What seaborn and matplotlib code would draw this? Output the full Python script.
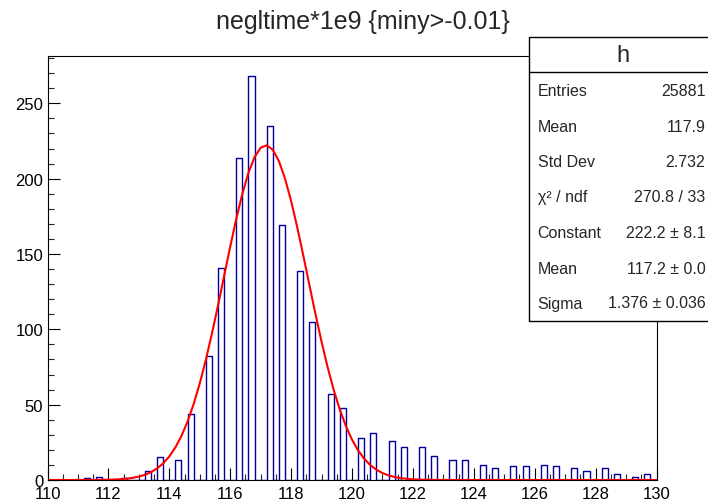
import numpy as np
import pandas as pd
import matplotlib
matplotlib.use("Agg")
import matplotlib.pyplot as plt
import seaborn as sns
from matplotlib.patches import Rectangle
from matplotlib.lines import Line2D
from matplotlib.ticker import MultipleLocator

# ---- data ----
bin_lo = [111.2, 111.6, 112.4, 113.2, 113.6, 114.2, 114.6, 115.2, 115.6, 116.2,
          116.6, 117.2, 117.6, 118.2, 118.6, 119.2, 119.6, 120.2, 120.6, 121.2,
          121.6, 122.2, 122.6, 123.2, 123.6, 124.2, 124.6, 125.2, 125.6, 126.2,
          126.6, 127.2, 127.6, 128.2, 128.6, 129.2, 129.6]
counts = [1, 2, 1, 6, 15, 13, 44, 82, 141, 214,
          268, 235, 169, 139, 105, 57, 48, 28, 31, 26,
          22, 22, 16, 13, 13, 10, 8, 9, 9, 10,
          9, 8, 6, 8, 4, 2, 4]
bin_width = 0.2
x_min, x_max = 110, 130

# Gaussian fit parameters (from the stats box)
fit_const = 222.2
fit_mean = 117.17
fit_sigma = 1.376

title = "negltime*1e9 {miny>-0.01}"
stat_labels = ["Entries", "Mean", "Std Dev", "χ² / ndf", "Constant", "Mean", "Sigma"]
stat_values = ["25881", "117.9", "2.732", "270.8 / 33", "222.2 ± 8.1", "117.2 ± 0.0", "1.376 ± 0.036"]
hist_name = "h"

# ---- figure ----
sns.set_style("ticks")
plt.rcParams["font.family"] = ["Liberation Sans", "DejaVu Sans"]

W, H = 708, 502
fig = plt.figure(figsize=(W / 100, H / 100), dpi=100)
fig.patch.set_facecolor("white")

ax_l, ax_r, ax_t, ax_b = 47.5, 656.5, 57, 481
ax = fig.add_axes([ax_l / W, (H - ax_b) / H, (ax_r - ax_l) / W, (ax_b - ax_t) / H])

df = pd.DataFrame({"x": np.array(bin_lo) + bin_width / 2, "w": counts})
sns.histplot(data=df, x="x", weights="w", binwidth=bin_width, binrange=(x_min, x_max),
             element="step", fill=False, color="#000099", linewidth=1.0, ax=ax)

xf = np.linspace(x_min, x_max, 101)
yf = fit_const * np.exp(-0.5 * ((xf - fit_mean) / fit_sigma) ** 2)
sns.lineplot(x=xf, y=yf, color="#ff0000", linewidth=1.5, ax=ax)

ax.set_xlim(x_min, x_max)
ax.set_ylim(0, max(counts) * 1.05)
ax.set_xlabel("")
ax.set_ylabel("")
ax.xaxis.set_major_locator(MultipleLocator(2))
ax.xaxis.set_minor_locator(MultipleLocator(0.5))
ax.yaxis.set_major_locator(MultipleLocator(50))
ax.yaxis.set_minor_locator(MultipleLocator(10))
ax.tick_params(which="major", direction="in", length=8.5, width=0.8, labelsize=12,
               pad=3, top=False, right=False, colors="black")
ax.tick_params(axis="x", which="major", pad=4)
ax.tick_params(which="minor", direction="in", length=4.5, width=0.8, top=False, right=False)
for s in ax.spines.values():
    s.set_visible(True)
    s.set_linewidth(0.8)
    s.set_color("black")

# title
fig.text(362.5 / W, 1 - 21.7 / H, title, ha="center", va="center", fontsize=18)

# stats box
bx_l, bx_r, bx_t, bx_b, bx_h = 528.5, 720, 37.5, 322, 72.7
fig.add_artist(Rectangle((bx_l / W, 1 - bx_b / H), (bx_r - bx_l) / W, (bx_b - bx_t) / H,
                         transform=fig.transFigure, facecolor="white", edgecolor="black",
                         linewidth=1.0, zorder=5))
fig.add_artist(Line2D([bx_l / W, bx_r / W], [1 - bx_h / H, 1 - bx_h / H],
                      transform=fig.transFigure, color="black", linewidth=1.0, zorder=6))
fig.text(623 / W, 1 - 56 / H, hist_name, ha="center", va="center", fontsize=17, zorder=7)
row_y = [91.3, 127.3, 163, 198, 233.7, 269.3, 304]
for lab, val, yy in zip(stat_labels, stat_values, row_y):
    fig.text(537.5 / W, 1 - yy / H, lab, ha="left", va="center", fontsize=11.5, zorder=7)
    fig.text(705.5 / W, 1 - yy / H, val, ha="right", va="center", fontsize=11.5, zorder=7)

fig.savefig("out.png", dpi=100)
